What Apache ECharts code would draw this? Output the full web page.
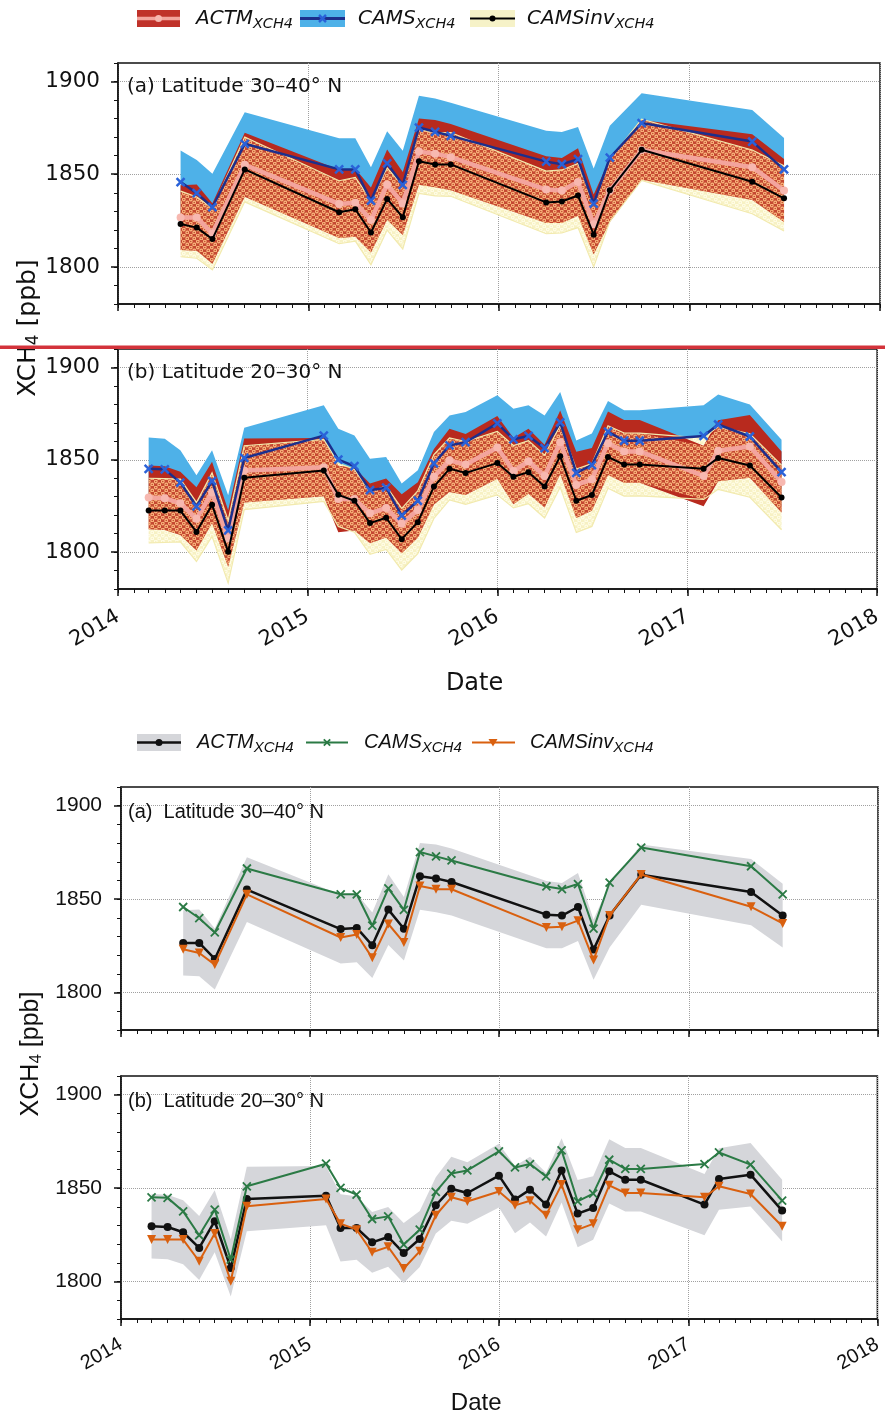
<!DOCTYPE html>
<html><head><meta charset="utf-8">
<script src="https://cdn.jsdelivr.net/npm/echarts@6/dist/echarts.min.js"></script>
<style>html,body{margin:0;padding:0;background:#fff}#c{width:885px;height:1419px}</style>
</head><body><div id="c"></div>
<script>
// ---------------- data ----------------
const datesA = ['2014-05-01','2014-06-01','2014-07-01','2014-09-01','2015-03-01','2015-04-01','2015-05-01','2015-06-01','2015-07-01','2015-08-01','2015-09-01','2015-10-01','2016-04-01','2016-05-01','2016-06-01','2016-07-01','2016-08-01','2016-10-01','2017-05-01','2017-07-01'];
const actmA   = [1826.6,1826.6,1818.0,1855.1,1834.0,1834.6,1825.3,1844.4,1834.2,1862.2,1861.1,1859.2,1841.7,1841.2,1845.8,1823.0,1841.2,1863.1,1853.8,1841.2];
const actmSdA = [17.5,17.9,16.3,17.3,18.4,18.3,17.5,18.9,17.0,17.9,18.1,17.9,18.0,17.5,18.2,16.1,17.0,16.1,17.7,17.0];
const camsA   = [1845.8,1839.8,1832.2,1866.4,1852.6,1852.6,1835.8,1855.8,1844.3,1875.2,1872.9,1870.7,1856.8,1855.4,1858.1,1834.2,1858.9,1877.6,1867.6,1852.6];
const camsSdA = [17.0,17.9,18.0,17.0,16.8,16.8,17.9,17.4,18.4,17.1,17.9,17.9,16.7,17.4,17.4,18.9,17.3,16.1,17.1,16.9];
const invA    = [1823.2,1821.2,1815.0,1852.6,1829.5,1831.1,1818.6,1836.7,1826.8,1857.0,1855.3,1855.3,1834.8,1835.3,1838.5,1817.4,1841.3,1863.2,1845.9,1837.0];
const invSdA  = [17.7,16.5,16.6,17.5,17.0,17.2,17.4,16.8,17.1,17.3,17.0,17.2,16.9,17.0,17.3,17.4,16.8,16.5,17.2,17.6];

const datesB = ['2014-03-01','2014-04-01','2014-05-01','2014-06-01','2014-07-01','2014-08-01','2014-09-01','2015-02-01','2015-03-01','2015-04-01','2015-05-01','2015-06-01','2015-07-01','2015-08-01','2015-09-01','2015-10-01','2015-11-01','2016-01-01','2016-02-01','2016-03-01','2016-04-01','2016-05-01','2016-06-01','2016-07-01','2016-08-01','2016-09-01','2016-10-01','2017-02-01','2017-03-01','2017-05-01','2017-07-01'];
const actmB   = [1829.6,1829.2,1826.4,1818.0,1832.3,1807.3,1844.2,1846.0,1828.7,1828.7,1821.0,1823.9,1815.3,1822.8,1840.8,1849.7,1847.4,1856.7,1843.9,1849.2,1841.2,1859.5,1836.4,1839.4,1859.0,1854.5,1854.5,1841.2,1854.9,1857.2,1838.0];
const actmSdB = [17.3,17.3,17.1,17.1,16.6,15.3,17.3,15.8,18.0,17.0,16.2,16.0,16.0,15.0,15.0,17.1,16.5,17.0,18.0,17.6,17.0,17.2,18.0,17.0,17.2,17.0,17.0,16.4,16.5,17.0,16.5];
const camsB   = [1845.1,1844.8,1837.6,1824.8,1838.5,1811.8,1851.0,1863.1,1850.1,1846.5,1833.5,1834.9,1819.8,1827.8,1848.0,1857.8,1859.5,1869.7,1861.1,1862.9,1856.3,1870.2,1842.9,1847.1,1865.2,1860.3,1860.3,1862.9,1869.1,1862.6,1843.3];
const camsSdB = [17.0,16.6,17.5,16.8,16.6,19.0,16.4,16.4,16.7,16.7,17.1,16.6,17.3,16.5,17.0,16.2,16.4,15.2,16.6,16.6,17.7,16.5,17.6,17.1,16.6,16.5,16.5,16.6,16.3,17.4,17.6];
const invB    = [1822.5,1822.5,1822.5,1810.9,1825.7,1800.2,1840.3,1844.2,1831.0,1827.8,1815.7,1818.6,1807.0,1816.2,1835.5,1845.1,1842.9,1848.2,1840.8,1843.3,1835.5,1851.9,1827.8,1830.9,1851.5,1847.4,1847.4,1845.1,1851.0,1846.9,1829.6];
const invSdB  = [17.5,17.3,17.0,16.0,17.2,17.0,17.3,16.8,17.1,17.0,16.9,17.2,16.7,17.0,17.3,16.8,17.0,17.2,16.9,17.1,17.0,16.8,17.2,17.0,16.9,17.1,17.0,16.6,17.0,17.2,17.5];

const yearTicks = ['2014-01-01','2015-01-01','2016-01-01','2017-01-01','2018-01-01'];
const yMajorTicks = [1800, 1850, 1900];
const panelTitles = ['(a) Latitude 30\u201340\u00b0 N', '(b) Latitude 20\u201330\u00b0 N', '(a)  Latitude 30\u201340\u00b0 N', '(b)  Latitude 20\u201330\u00b0 N'];

// ---------------- helpers ----------------
const P = s => +echarts.time.parse(s);
const monthTicks = [];
for (let y = 2014; y < 2018; y++) for (let m = 0; m < 12; m++) monthTicks.push(new Date(y, m, 1).getTime());
monthTicks.push(new Date(2018, 0, 1).getTime());
const yearTickTs = yearTicks.map(P);

const FT = 'DejaVu Sans', FB = 'Liberation Sans';

function circlesTile(bg, stroke) {
  const c = document.createElement('canvas'); c.width = 7; c.height = 6;
  const g = c.getContext('2d');
  if (bg) { g.fillStyle = bg; g.fillRect(0, 0, 7, 6); }
  g.strokeStyle = stroke; g.lineWidth = 1.15;
  [[1.75, 1.5], [5.25, 4.5]].forEach(([x, y]) => { g.beginPath(); g.arc(x, y, 1.35, 0, Math.PI * 2); g.stroke(); });
  return { image: c, repeat: 'repeat' };
}
const hatchOverRed = circlesTile('rgba(240,175,115,0.24)', 'rgba(252,190,130,0.95)');
const hatchYellow = circlesTile('#f7f1c4', 'rgba(255,253,232,0.95)');

const grids = [
  { left: 118, top: 63,   width: 762, height: 241 },
  { left: 118, top: 349,  width: 762, height: 240 },
  { left: 121, top: 787,  width: 757, height: 243 },
  { left: 121, top: 1076, width: 757, height: 243 }
].map(g => Object.assign(g, { show: true, borderColor: '#111', borderWidth: 1.5, backgroundColor: 'transparent' }));

const xAxes = [], yAxes = [];
grids.forEach((g, i) => {
  const font = i < 2 ? FT : FB;
  const fs = i < 2 ? 21 : 20;
  const showLab = (i === 1 || i === 3);
  xAxes.push({
    type: 'value', gridIndex: i, min: yearTickTs[0], max: yearTickTs[4], position: 'bottom',
    axisLine: { show: true, onZero: false, lineStyle: { color: '#111', width: 1.5 } },
    axisTick: { show: true, customValues: yearTickTs, length: 7, lineStyle: { color: '#111', width: 1.5 } },
    axisLabel: { show: showLab, customValues: yearTickTs, rotate: 30, margin: i === 1 ? 26 : 24, showMinLabel: true, showMaxLabel: true,
      formatter: v => String(new Date(v).getFullYear()), fontFamily: font, fontSize: fs, color: '#111' },
    splitLine: { show: true, lineStyle: { color: '#a0a0a0', type: 'dotted', width: 1 } },
    name: showLab ? 'Date' : '', nameLocation: 'middle', nameGap: i === 1 ? 83 : 72,
    nameTextStyle: { fontFamily: font, fontSize: 24, color: '#111', padding: [0, 46, 0, 0] }
  });
  xAxes.push({
    type: 'value', gridIndex: i, min: yearTickTs[0], max: yearTickTs[4], position: 'bottom',
    axisLine: { show: false }, axisLabel: { show: false }, splitLine: { show: false },
    axisTick: { show: true, customValues: monthTicks, length: 4, lineStyle: { color: '#111', width: 1 } }
  });
  yAxes.push({
    type: 'value', gridIndex: i, position: 'left', min: 1780, max: 1910, interval: 10,
    axisLine: { show: true, onZero: false, lineStyle: { color: '#111', width: 1.5 } },
    axisTick: { show: true, customValues: yMajorTicks, length: 7, lineStyle: { color: '#111', width: 1.5 } },
    axisLabel: { customValues: yMajorTicks, margin: i < 2 ? 18 : 19, formatter: v => String(v), fontFamily: font, fontSize: i < 2 ? 21.5 : 21, color: '#111' },
    splitLine: { show: true, lineStyle: { color: '#a0a0a0', type: 'dotted', width: 1 } }
  });
  yAxes.push({
    type: 'value', gridIndex: i, position: 'left', min: 1780, max: 1910, interval: 10,
    axisLine: { show: false }, axisLabel: { show: false }, splitLine: { show: false },
    axisTick: { show: true, length: 4, lineStyle: { color: '#111', width: 1 } }
  });
});

// a filled band between lo[] and hi[], drawn through the axis scales
function bandLH(gi, dates, lo, hi, fill, edge, z) {
  const data = dates.map((d, k) => [P(d), lo[k], hi[k]]);
  return {
    type: 'custom', xAxisIndex: 2 * gi, yAxisIndex: 2 * gi, silent: true, z: z || 2,
    data: data, encode: { x: 0, y: [1, 2] },
    renderItem: function (params, api) {
      if (params.dataIndex !== 0) return null;
      const up = [], dn = [];
      for (let k = 0; k < data.length; k++) {
        up.push(api.coord([data[k][0], data[k][2]]));
        dn.push(api.coord([data[k][0], data[k][1]]));
      }
      const children = [];
      if (fill) children.push({ type: 'polygon', shape: { points: up.concat(dn.slice().reverse()) }, style: { fill: fill } });
      if (edge) {
        children.push({ type: 'polyline', shape: { points: up }, style: { stroke: edge, lineWidth: 1.2, fill: null } });
        children.push({ type: 'polyline', shape: { points: dn }, style: { stroke: edge, lineWidth: 1.2, fill: null } });
      }
      return { type: 'group', children: children };
    }
  };
}
function band(gi, dates, mean, sd, fill, edge, z) {
  return bandLH(gi, dates, mean.map((m, k) => m - sd[k]), mean.map((m, k) => m + sd[k]), fill, edge, z);
}
function overlap(gi, dates, m1, s1, m2, s2, fill) {
  const lo = m1.map((m, k) => Math.max(m - s1[k], m2[k] - s2[k]));
  const hi = m1.map((m, k) => Math.max(lo[k], Math.min(m + s1[k], m2[k] + s2[k])));
  return bandLH(gi, dates, lo, hi, fill, null, 2);
}
const XPATH = 'path://M0,0L10,10M10,0L0,10';
function line(gi, dates, vals, o) {
  return {
    xAxisIndex: 2 * gi, yAxisIndex: 2 * gi, type: 'line', silent: true, z: o.z || 3,
    data: dates.map((d, k) => [P(d), vals[k]]),
    symbol: o.symbol, symbolSize: o.size, symbolRotate: o.rot || 0, showSymbol: true,
    lineStyle: { color: o.color, width: o.width },
    itemStyle: { color: o.fill, borderColor: o.stroke || o.fill, borderWidth: o.bw || 0 }
  };
}

const series = [];
[[0, datesA, actmA, actmSdA, camsA, camsSdA, invA, invSdA], [1, datesB, actmB, actmSdB, camsB, camsSdB, invB, invSdB]].forEach(([gi, d, am, asd, cm, csd, im, isd]) => {
  series.push(band(gi, d, cm, csd, '#4eb1e8'));
  series.push(band(gi, d, im, isd, hatchYellow));
  series.push(band(gi, d, am, asd, '#b82a1e'));
  series.push(overlap(gi, d, am, asd, im, isd, hatchOverRed));
  series.push(band(gi, d, im, isd, null, '#f2eaae'));
  series.push(line(gi, d, am, { symbol: 'circle', size: 8, color: '#f3a49d', width: 4.5, fill: '#f7b8b0' }));
  series.push(line(gi, d, cm, { symbol: XPATH, size: 8, color: '#1c2f8c', width: 2.5, fill: '#2a62d8', stroke: '#2a62d8', bw: 2.5, z: 4 }));
  series.push(line(gi, d, im, { symbol: 'circle', size: 6, color: '#000', width: 2, fill: '#000', z: 5 }));
});
[[2, datesA, actmA, actmSdA, camsA, invA], [3, datesB, actmB, actmSdB, camsB, invB]].forEach(([gi, d, am, asd, cm, im]) => {
  series.push(band(gi, d, am, asd, '#d5d6da'));
  series.push(line(gi, d, am, { symbol: 'circle', size: 8, color: '#111', width: 2.5, fill: '#111', z: 3 }));
  series.push(line(gi, d, cm, { symbol: XPATH, size: 8, color: '#2b7a45', width: 2, fill: '#2b7a45', stroke: '#2b7a45', bw: 1.8, z: 4 }));
  series.push(line(gi, d, im, { symbol: 'triangle', rot: 180, size: 9, color: '#d9600f', width: 2, fill: '#d9600f', z: 5 }));
});

// ---------------- graphics: legends, titles ----------------
const gfx = [];
function rt(x, y, main, sub, font, ms, ss) {
  return {
    type: 'text', x, y, z: 50,
    style: { text: '{m|' + main + '}{s|' + sub + '}', verticalAlign: 'middle', align: 'left',
      rich: { m: { fontFamily: font, fontStyle: 'italic', fontSize: ms, fill: '#111' },
              s: { fontFamily: font, fontStyle: 'italic', fontSize: ss, fill: '#111', padding: [11, 0, 0, 0] } } }
  };
}
function xMark(cx, cy, r, color, w) {
  return [
    { type: 'line', z: 52, shape: { x1: cx - r, y1: cy - r, x2: cx + r, y2: cy + r }, style: { stroke: color, lineWidth: w } },
    { type: 'line', z: 52, shape: { x1: cx - r, y1: cy + r, x2: cx + r, y2: cy - r }, style: { stroke: color, lineWidth: w } }
  ];
}
const ly = 18.5;
gfx.push({ type: 'rect', z: 50, shape: { x: 137, y: 10, width: 43, height: 17 }, style: { fill: '#c0322a' } });
gfx.push({ type: 'line', z: 51, shape: { x1: 137, y1: ly, x2: 180, y2: ly }, style: { stroke: '#f3a49d', lineWidth: 3.5 } });
gfx.push({ type: 'circle', z: 52, shape: { cx: 158.5, cy: ly, r: 3.5 }, style: { fill: '#f7b8b0' } });
gfx.push(rt(196, ly, 'ACTM', 'XCH4', FT, 20, 14.5));
gfx.push({ type: 'rect', z: 50, shape: { x: 300, y: 10, width: 45, height: 17 }, style: { fill: '#4eb1e8' } });
gfx.push({ type: 'line', z: 51, shape: { x1: 300, y1: ly, x2: 345, y2: ly }, style: { stroke: '#1c2f8c', lineWidth: 3 } });
gfx.push(...xMark(322.5, ly, 3.5, '#2a62d8', 2.5));
gfx.push(rt(358, ly, 'CAMS', 'XCH4', FT, 20, 14.5));
gfx.push({ type: 'rect', z: 50, shape: { x: 470, y: 10, width: 45, height: 17 }, style: { fill: '#f6f2c8' } });
gfx.push({ type: 'line', z: 51, shape: { x1: 470, y1: ly, x2: 515, y2: ly }, style: { stroke: '#000', lineWidth: 2 } });
gfx.push({ type: 'circle', z: 52, shape: { cx: 492.5, cy: ly, r: 3 }, style: { fill: '#000' } });
gfx.push(rt(527, ly, 'CAMSinv', 'XCH4', FT, 20, 14.5));
const by = 742.5;
gfx.push({ type: 'rect', z: 50, shape: { x: 137, y: 734, width: 44, height: 17 }, style: { fill: '#d5d6da' } });
gfx.push({ type: 'line', z: 51, shape: { x1: 137, y1: by, x2: 181, y2: by }, style: { stroke: '#111', lineWidth: 2.5 } });
gfx.push({ type: 'circle', z: 52, shape: { cx: 159, cy: by, r: 3.5 }, style: { fill: '#111' } });
gfx.push(rt(197, by, 'ACTM', 'XCH4', FB, 20, 15));
gfx.push({ type: 'line', z: 51, shape: { x1: 306, y1: by, x2: 348, y2: by }, style: { stroke: '#2b7a45', lineWidth: 2 } });
gfx.push(...xMark(327, by, 3.2, '#2b7a45', 1.8));
gfx.push(rt(364, by, 'CAMS', 'XCH4', FB, 20, 15));
gfx.push({ type: 'line', z: 51, shape: { x1: 472, y1: by, x2: 515, y2: by }, style: { stroke: '#d9600f', lineWidth: 2 } });
gfx.push({ type: 'polygon', z: 52, shape: { points: [[488.5, by - 3.5], [497.5, by - 3.5], [493, by + 4]] }, style: { fill: '#d9600f' } });
gfx.push(rt(530, by, 'CAMSinv', 'XCH4', FB, 20, 15));
[[127, 87, FT], [127, 373, FT], [128, 812, FB], [128, 1101, FB]].forEach(([x, y, f], i) => {
  gfx.push({ type: 'text', x, y, z: 50, style: { text: panelTitles[i], fontFamily: f, fontSize: 20, fill: '#111', verticalAlign: 'middle', align: 'left' } });
});
[[28, 328, FT], [31, 1054, FB]].forEach(([x, y, f]) => {
  gfx.push({ type: 'text', x, y, rotation: Math.PI / 2, z: 50,
    style: { text: '{a|XCH}{s|4}{a| [ppb]}', align: 'center', verticalAlign: 'middle',
      rich: { a: { fontFamily: f, fontSize: 25, fill: '#111' }, s: { fontFamily: f, fontSize: 17, fill: '#111', padding: [11, 0, 0, 0] } } } });
});
gfx.push({ type: 'rect', z: 100, shape: { x: 0, y: 345.5, width: 885, height: 3.5 }, style: { fill: '#d3333b' } });

const chart = echarts.init(document.getElementById('c'), null, { renderer: 'canvas' });
chart.setOption({
  animation: false,
  backgroundColor: '#fff',
  grid: grids,
  xAxis: xAxes,
  yAxis: yAxes,
  series: series,
  graphic: { elements: gfx }
});
</script>
</body></html>
